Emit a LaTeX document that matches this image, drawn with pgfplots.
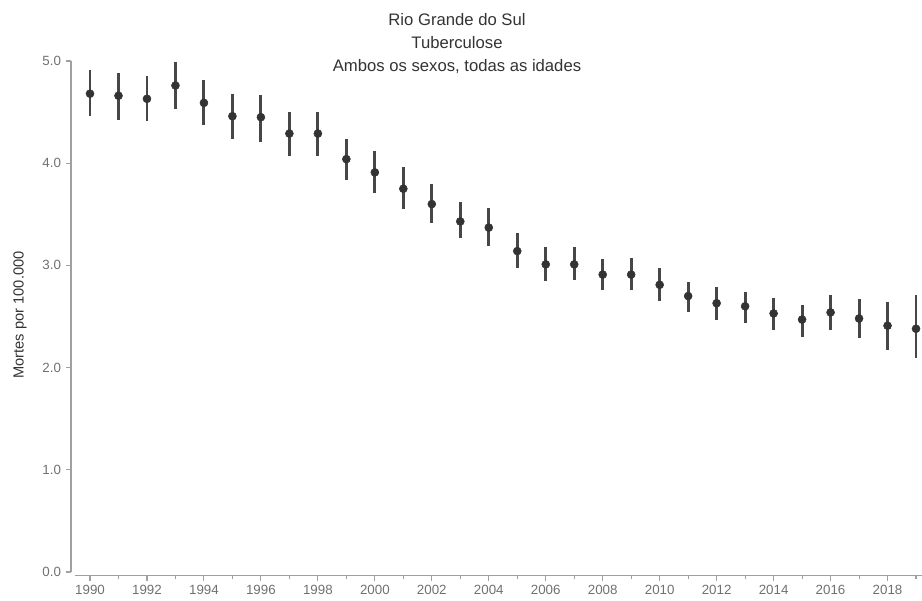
\documentclass[border=0pt]{standalone}
\usepackage{pgfplots}
\usepackage{pgfplotstable}
\pgfplotsset{compat=1.18}
\usepackage{fontspec}
\setmainfont{Liberation Sans}
\definecolor{axgray}{HTML}{A0A0A0}
\definecolor{lblgray}{HTML}{707070}
\definecolor{dark}{HTML}{333333}
\pgfplotstableread{
x y ep em
1990 4.68 0.23 0.22
1991 4.66 0.22 0.24
1992 4.63 0.22 0.22
1993 4.76 0.23 0.23
1994 4.59 0.22 0.22
1995 4.46 0.22 0.22
1996 4.45 0.22 0.24
1997 4.29 0.21 0.22
1998 4.29 0.21 0.22
1999 4.04 0.20 0.20
2000 3.91 0.21 0.20
2001 3.75 0.21 0.20
2002 3.60 0.20 0.19
2003 3.43 0.19 0.16
2004 3.37 0.19 0.18
2005 3.14 0.18 0.17
2006 3.01 0.17 0.16
2007 3.01 0.17 0.15
2008 2.91 0.15 0.15
2009 2.91 0.16 0.15
2010 2.81 0.16 0.16
2011 2.70 0.14 0.16
2012 2.63 0.16 0.16
2013 2.60 0.14 0.16
2014 2.53 0.15 0.16
2015 2.47 0.14 0.17
2016 2.54 0.17 0.17
2017 2.48 0.19 0.19
2018 2.41 0.23 0.24
2019 2.38 0.33 0.29
}\datatable
\begin{document}
\begin{tikzpicture}
\begin{axis}[
  scale only axis,
  width=635.25pt, height=383.25pt,
  xmin=1989.473, xmax=2019.21,
  ymin=0, ymax=5,
  axis lines*=left,
  axis x line shift=2.5pt,
  axis y line shift=3pt,
  axis line style={axgray, line width=1.1pt},
  clip=false,
  xtick={1990,1992,...,2018},
  minor xtick={1991,1993,...,2019},
  ytick={0,1,2,3,4,5},
  x tick label style={/pgf/number format/1000 sep={}},
  yticklabel style={/pgf/number format/.cd, fixed, fixed zerofill, precision=1},
  /pgf/number format/assume math mode=true,
  tick style={axgray, line width=0.8pt},
  major tick length=4pt, minor tick length=3pt,
  tick align=outside,
  ticklabel style={font=\fontsize{10}{12}\selectfont, text=lblgray},
  ylabel={Mortes por 100.000},
  ylabel style={font=\fontsize{11}{12}\selectfont, text=dark, at={(rel axis cs:-0.0649,0.503)}, anchor=center, rotate=0},
  title={Rio Grande do Sul\\Tuberculose\\Ambos os sexos, todas as idades},
  title style={align=center, font=\fontsize{12.5}{17.25}\selectfont, text=dark, at={(rel axis cs:0.451,1.077)}, anchor=north, inner sep=0pt},
]
\addplot[only marks, mark=*, mark size=3pt, color=dark,
  error bars/.cd, y dir=both, y explicit,
  error bar style={line width=2.2pt, color=dark!90}, error mark=none]
  table[x=x, y=y, y error plus=ep, y error minus=em] {\datatable};
\coordinate (sw) at (rel axis cs:0,0);
\coordinate (ne) at (rel axis cs:1,1);
\end{axis}
\pgfresetboundingbox
\path ([shift={(-56.25pt,-21.75pt)}]sw) rectangle ([shift={(0pt,45.75pt)}]ne);
\end{tikzpicture}
\end{document}
